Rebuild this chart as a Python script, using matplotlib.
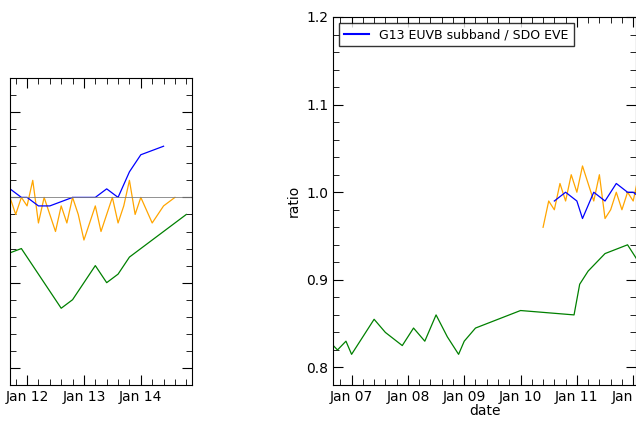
import numpy as np
import matplotlib.pyplot as plt

# days since Jan 0 (so 7.0 = Jan 07)
green_t = [6.6, 6.75, 6.9, 7.0, 7.2, 7.4, 7.6, 7.9, 8.1, 8.3, 8.5, 8.7, 8.9, 9.0, 9.2, 10.0, 10.95, 11.05, 11.2, 11.5, 11.9,
           12.0, 12.2, 12.4, 12.6, 12.8, 13.0, 13.2, 13.4, 13.6, 13.8, 14.0, 14.2, 14.4, 14.6, 14.8]
green_v = [0.83, 0.82, 0.83, 0.815, 0.835, 0.855, 0.84, 0.825, 0.845, 0.83, 0.86, 0.835, 0.815, 0.83, 0.845, 0.865, 0.86, 0.895, 0.91, 0.93, 0.94,
           0.93, 0.91, 0.89, 0.87, 0.88, 0.90, 0.92, 0.90, 0.91, 0.93, 0.94, 0.95, 0.96, 0.97, 0.98]
orange_t = [10.4, 10.5, 10.6, 10.7, 10.8, 10.9, 11.0, 11.1, 11.2, 11.3, 11.4, 11.5, 11.6, 11.7, 11.8, 11.9,
            12.0, 12.1, 12.2, 12.3, 12.4, 12.5, 12.6, 12.7, 12.8, 12.9, 13.0, 13.1, 13.2, 13.3, 13.4, 13.5, 13.6, 13.7, 13.8, 13.9, 14.0, 14.2, 14.4, 14.6]
orange_v = [0.96, 0.99, 0.98, 1.01, 0.99, 1.02, 1.00, 1.03, 1.01, 0.99, 1.02, 0.97, 0.98, 1.0, 0.98, 1.0,
            0.99, 1.02, 0.97, 1.0, 0.98, 0.96, 0.99, 0.97, 1.0, 0.98, 0.95, 0.97, 0.99, 0.96, 0.98, 1.0, 0.97, 0.99, 1.02, 0.98, 1.0, 0.97, 0.99, 1.0]
blue_t = [10.6, 10.8, 11.0, 11.1, 11.3, 11.5, 11.7, 11.9, 12.0, 12.2, 12.4, 12.6, 12.8, 13.0, 13.2, 13.4, 13.6, 13.8, 14.0, 14.2, 14.4]
blue_v = [0.99, 1.00, 0.99, 0.97, 1.0, 0.99, 1.01, 1.0, 1.0, 0.99, 0.99, 0.995, 1.0, 1.0, 1.0, 1.01, 1.0, 1.03, 1.05, 1.055, 1.06]
tick_pos = [7, 8, 9, 10, 11, 12, 13, 14]
tick_lab = ['Jan 07', 'Jan 08', 'Jan 09', 'Jan 10', 'Jan 11', 'Jan 12', 'Jan 13', 'Jan 14']

fig = plt.figure(figsize=(6.36, 4.47), dpi=100)
ax = fig.add_axes([333/636, 1-385/447, 1-333/636, (385-17)/447])
ax2 = fig.add_axes([10/636, 1-385/447, 182/636, (385-78)/447])

for a, lo, hi in [(ax, 6.67, 12.05), (ax2, 11.7, 14.9)]:
    a.plot(green_t, green_v, color='green', lw=0.9)
    a.plot(orange_t, orange_v, color='orange', lw=0.9)
    a.plot(blue_t, blue_v, color='blue', lw=0.9)
    a.set_xticks(tick_pos)
    a.set_xticklabels(tick_lab)
    a.set_xlim(lo, hi)
    a.set_ylim(0.78, 1.2)
    a.set_yticks([0.8, 0.9, 1.0, 1.1, 1.2])
    a.minorticks_on()
    a.tick_params(direction='in', which='both', top=True, right=True, length=7)
    a.tick_params(which='minor', length=4)

ax.set_ylabel('ratio')
ax.set_xlabel('date', labelpad=0)
ax.plot([], [], color='blue', label='G13 EUVB subband / SDO EVE')
ax.legend(loc='upper left', frameon=True, fontsize=9, fancybox=False, edgecolor='black')
ax2.set_yticklabels([])
ax2.set_ylim(0.78, 1.14)
ax2.axhline(1.0, color='gray', lw=0.6)
fig.savefig('out.png')
